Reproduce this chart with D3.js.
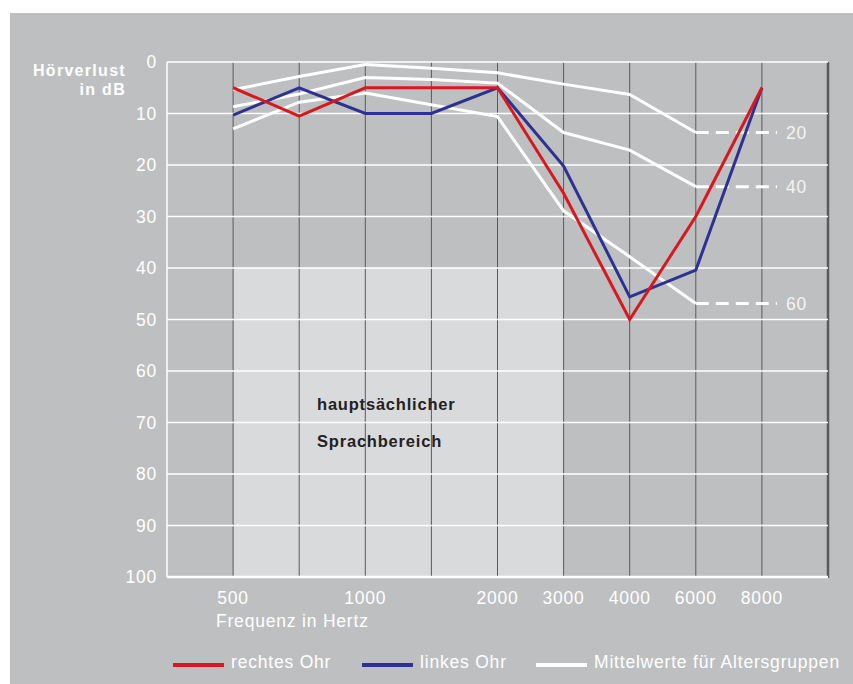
<!DOCTYPE html>
<html>
<head>
<meta charset="utf-8">
<script src="https://cdn.jsdelivr.net/npm/d3@7"></script>
<style>
  body { margin: 0; background: #fff; }
  svg { display: block; font-family: "Liberation Sans", Arial, sans-serif; letter-spacing: 0.8px; }
</style>
</head>
<body>
<div id="chart"></div>
<script>
// grid columns: empty first slot, then frequencies (750 and 1500 have no label)
const freqs = ["", "500", "750", "1000", "1500", "2000", "3000", "4000", "6000", "8000", ""];
const xLabels = ["500", "1000", "2000", "3000", "4000", "6000", "8000"];
const dbTicks = [0, 10, 20, 30, 40, 50, 60, 70, 80, 90, 100];
const curveFreqs = ["500", "750", "1000", "1500", "2000", "3000", "4000", "6000", "8000"];

const rightEar = [5, 10.5, 5, 5, 5, 25.5, 50, 30, 5];
const leftEar = [10.3, 5, 10, 10, 5, 20.2, 45.6, 40.4, 5];

const ageFreqs = ["500", "750", "1000", "1500", "2000", "3000", "4000", "6000"];
const ageGroups = ["20", "40", "60"];
const age20 = [5.4, 2.8, 0.5, 1.2, 2.1, 4.3, 6.3, 13.7];
const age40 = [8.7, 6.2, 3.0, 3.4, 4.1, 13.7, 17.1, 24.2];
const age60 = [13, 7.8, 6.0, 8.3, 10.6, 28.9, 37.8, 46.9];

const speechRange = { from: "500", to: "3000", db: 40 };
const legendItems = [
  { label: "rechtes Ohr", color: "#d7191f" },
  { label: "linkes Ohr", color: "#2e3192" },
  { label: "Mittelwerte für Altersgruppen", color: "#ffffff" }
];

const W = 853, H = 684;
const margin = { left: 167, right: 25, top: 62, bottom: 107 };
const fs = 17.5;

const svg = d3.select("#chart").append("svg")
  .attr("width", W).attr("height", H);

svg.append("rect")
  .attr("x", 10).attr("y", 13)
  .attr("width", W - 10).attr("height", H - 13)
  .attr("fill", "#bebfc1");

const x = d3.scalePoint()
  .domain(freqs.map((f, i) => i))
  .range([margin.left, W - margin.right]);
const xf = f => x(freqs.indexOf(f));

const y = d3.scaleLinear()
  .domain([0, 100])
  .range([margin.top, H - margin.bottom]);

// speech area
svg.append("rect")
  .attr("x", xf(speechRange.from))
  .attr("y", y(speechRange.db))
  .attr("width", xf(speechRange.to) - xf(speechRange.from))
  .attr("height", y(100) - y(speechRange.db))
  .attr("fill", "#d9dadc");

// vertical grid
svg.append("g")
  .selectAll("line")
  .data(freqs.map((f, i) => i).slice(1, -1))
  .join("line")
  .attr("x1", d => x(d)).attr("x2", d => x(d))
  .attr("y1", y(0)).attr("y2", y(100))
  .attr("stroke", "#5a5a5c")
  .attr("stroke-width", 1);

// right border
svg.append("line")
  .attr("x1", x(10)).attr("x2", x(10))
  .attr("y1", y(0)).attr("y2", y(100) + 1)
  .attr("stroke", "#5a5a5c")
  .attr("stroke-width", 2.5);

// horizontal grid
svg.append("g")
  .selectAll("line")
  .data(dbTicks)
  .join("line")
  .attr("x1", x(0)).attr("x2", x(10))
  .attr("y1", d => y(d)).attr("y2", d => y(d))
  .attr("stroke", "#fff")
  .attr("stroke-width", d => d === 100 ? 2.5 : 1.5);

// left border
svg.append("line")
  .attr("x1", x(0)).attr("x2", x(0))
  .attr("y1", y(0)).attr("y2", y(100))
  .attr("stroke", "#fff")
  .attr("stroke-width", 1.5);

// y tick labels
svg.append("g")
  .selectAll("text")
  .data(dbTicks)
  .join("text")
  .attr("x", 157)
  .attr("y", d => y(d) + 6)
  .attr("text-anchor", "end")
  .attr("fill", "#fff")
  .attr("font-size", fs)
  .text(d => d);

// y axis title, two lines
svg.append("text")
  .attr("x", 126).attr("y", 76)
  .attr("text-anchor", "end")
  .attr("fill", "#fff")
  .attr("font-weight", "bold")
  .attr("font-size", 16)
  .attr("letter-spacing", 1.3)
  .text("Hörverlust");
svg.append("text")
  .attr("x", 126).attr("y", 95)
  .attr("text-anchor", "end")
  .attr("fill", "#fff")
  .attr("font-weight", "bold")
  .attr("font-size", 16)
  .attr("letter-spacing", 1.3)
  .text("in dB");

// x tick labels
svg.append("g")
  .selectAll("text")
  .data(xLabels)
  .join("text")
  .attr("x", d => xf(d))
  .attr("y", 604)
  .attr("text-anchor", "middle")
  .attr("fill", "#fff")
  .attr("font-size", fs)
  .text(d => d);

svg.append("text")
  .attr("x", 216).attr("y", 627)
  .attr("fill", "#fff")
  .attr("font-size", fs)
  .text("Frequenz in Hertz");

// speech area label
svg.append("text")
  .attr("x", 317).attr("y", 410)
  .attr("fill", "#222")
  .attr("font-weight", "bold")
  .attr("font-size", 16.5)
  .text("hauptsächlicher");
svg.append("text")
  .attr("x", 317).attr("y", 447)
  .attr("fill", "#222")
  .attr("font-weight", "bold")
  .attr("font-size", 16.5)
  .text("Sprachbereich");

const line = d3.line()
  .x(d => xf(d[0]))
  .y(d => y(d[1]));

// age group curves
const ageSeries = [age20, age40, age60];
ageSeries.forEach((vals, i) => {
  svg.append("path")
    .attr("d", line(ageFreqs.map((f, j) => [f, vals[j]])))
    .attr("fill", "none")
    .attr("stroke", "#fff")
    .attr("stroke-width", 3);
  const last = vals[vals.length - 1];
  svg.append("line")
    .attr("x1", xf("6000")).attr("x2", xf("8000") + 15)
    .attr("y1", y(last)).attr("y2", y(last))
    .attr("stroke", "#fff")
    .attr("stroke-width", 3)
    .attr("stroke-dasharray", "13,7");
  svg.append("text")
    .attr("x", xf("8000") + 24)
    .attr("y", y(last) + 6)
    .attr("fill", "#f4f4f4")
    .attr("font-size", fs)
    .text(ageGroups[i]);
});

// ears
[[leftEar, legendItems[1].color], [rightEar, legendItems[0].color]].forEach(([vals, c]) => {
  svg.append("path")
    .attr("d", line(curveFreqs.map((f, j) => [f, vals[j]])))
    .attr("fill", "none")
    .attr("stroke", c)
    .attr("stroke-width", 3);
});

// legend
const legendX = [173, 362, 536];
const legend = svg.append("g")
  .selectAll("g")
  .data(legendItems)
  .join("g")
  .attr("transform", (d, i) => `translate(${legendX[i]}, 665)`);
legend.append("rect")
  .attr("x", 0).attr("y", -2)
  .attr("width", 51).attr("height", 4)
  .attr("fill", d => d.color);
legend.append("text")
  .attr("x", 58).attr("y", 3)
  .attr("fill", "#fff")
  .attr("font-size", fs)
  .text(d => d.label);
</script>
</body>
</html>
